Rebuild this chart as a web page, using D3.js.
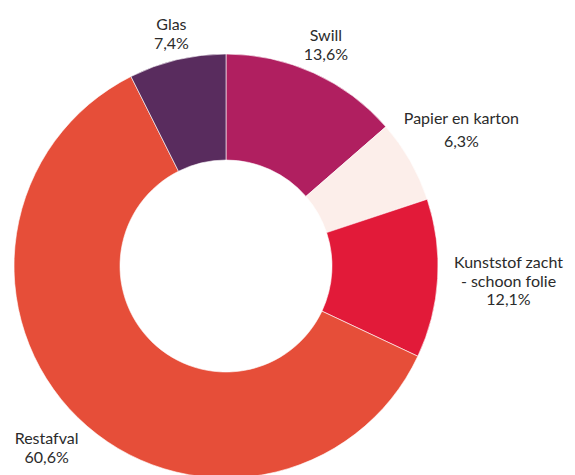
<!DOCTYPE html>
<html>
<head>
<meta charset="utf-8">
<script src="https://cdn.jsdelivr.net/npm/d3@7"></script>
<style>
  html, body { margin: 0; padding: 0; background: #fff; }
  svg { display: block; }
  text { font-family: Lato, "Noto Sans", sans-serif; fill: #2b2b2b; }
</style>
</head>
<body>
<svg id="chart" width="575" height="475"></svg>
<script>
// Data
const categories = ["Swill", "Papier en karton", "Kunststof zacht - schoon folie", "Restafval", "Glas"];
const values = [13.6, 6.3, 12.1, 60.6, 7.4];
const labelLines = [["Swill"], ["Papier en karton"], ["Kunststof zacht", "- schoon folie"], ["Restafval"], ["Glas"]];
const valueLabels = ["13,6%", "6,3%", "12,1%", "60,6%", "7,4%"];
const colors = ["#B01F60", "#FCEEEA", "#E21A39", "#E64E39", "#592C5E"];

// Layout
const width = 575, height = 475;
const cx = 226, cy = 266;
const outerR = 212, innerR = 106;
const labelR = [241, 271, 283, 257, 237];   // radius of label centre per slice
const valueGap = [19, 23, 18.5, 19, 18.5];  // gap between name lines and value line
const lineH = 18.5;

const svg = d3.select("#chart");
const g = svg.append("g").attr("transform", `translate(${cx},${cy})`);

const pie = d3.pie().value(d => d).sort(null);
const arcs = pie(values);
const arc = d3.arc().innerRadius(innerR).outerRadius(outerR);

g.selectAll("path.slice")
  .data(arcs)
  .join("path")
  .attr("class", "slice")
  .attr("d", arc)
  .attr("fill", (d, i) => colors[i])
  .attr("stroke", "#ffffff")
  .attr("stroke-width", 0.6);

// Labels
arcs.forEach((d, i) => {
  const mid = (d.startAngle + d.endAngle) / 2;
  const x = labelR[i] * Math.sin(mid);
  const y = -labelR[i] * Math.cos(mid);
  const lines = labelLines[i];
  const totalH = (lines.length - 1) * lineH + valueGap[i];
  const top = y - totalH / 2;
  const t = g.append("text")
    .attr("text-anchor", "middle")
    .attr("font-size", 16)
    .attr("dominant-baseline", "middle");
  lines.forEach((ln, j) => {
    t.append("tspan").attr("x", x).attr("y", top + j * lineH).text(ln);
  });
  t.append("tspan").attr("x", x)
    .attr("y", top + (lines.length - 1) * lineH + valueGap[i])
    .text(valueLabels[i]);
});
</script>
</body>
</html>
